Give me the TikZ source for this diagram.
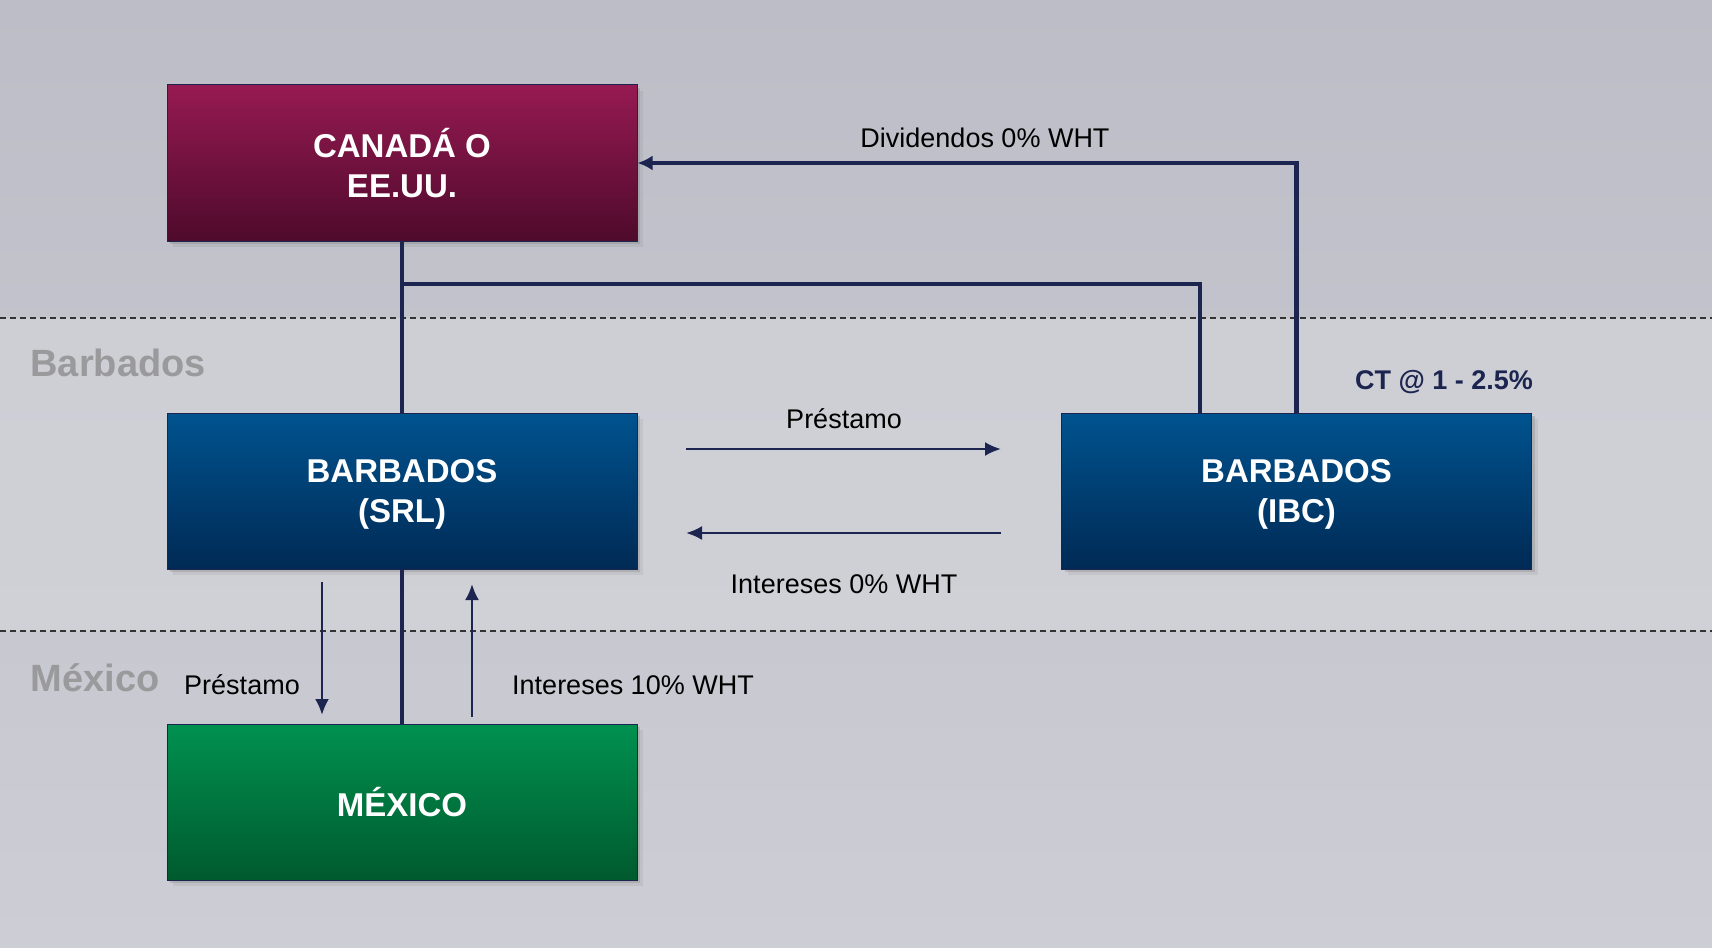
\documentclass[tikz,border=0pt]{standalone}
\usepackage{fontspec}
\setmainfont{Liberation Sans}
\usepackage{tikz}
\usetikzlibrary{arrows.meta,shadows}
\usepackage{xcolor}
\definecolor{navy}{HTML}{1C2450}
\definecolor{wineTop}{HTML}{961A52}
\definecolor{wineBot}{HTML}{4E0A2B}
\definecolor{blueTop}{HTML}{00538F}
\definecolor{blueBot}{HTML}{002A55}
\definecolor{greenTop}{HTML}{00914F}
\definecolor{greenBot}{HTML}{005A2E}
\definecolor{bgTop}{HTML}{BCBDC6}
\definecolor{bgMid}{HTML}{D4D5DA}
\definecolor{bgBot}{HTML}{CDCED5}
\definecolor{zonegray}{HTML}{9A9A9D}

\begin{document}
\begin{tikzpicture}[x=1pt,y=-1pt]

\tikzset{box/.style = {shape=rectangle,draw=navy,line width=1pt,minimum width=470pt,minimum height=156pt,
  align=center,text=white,font=\fontsize{33}{40}\selectfont\bfseries,
  drop shadow={shadow xshift=6pt,shadow yshift=-6pt,opacity=.15},
  drop shadow={shadow xshift=3pt,shadow yshift=-3pt,opacity=.3}}}
\tikzset{link/.style = {draw=navy,line width=4.5pt}}
\tikzset{flow/.style = {draw=navy,line width=2.5pt,-{Latex[length=16pt,width=14pt]}}}
\tikzset{lbl/.style = {text=black,font=\fontsize{27}{32}\selectfont}}
\tikzset{zone/.style = {anchor=base west,text=zonegray,font=\fontsize{38}{44}\selectfont\bfseries}}
\tikzset{divider/.style = {draw=black!80,line width=1.5pt,dash pattern=on 6pt off 4pt}}

%background
\useasboundingbox (0,0) rectangle (1712,947);
\fill[top color=bgTop,bottom color=bgBot] (0,0) rectangle (1712,947);
\fill[bgMid,opacity=.7] (0,318) rectangle (1712,631);
\draw[divider] (0,318) -- (1712,318);
\draw[divider] (0,631) -- (1712,631);
\node[zone] (zbarb) at (27,376) {Barbados};
\node[zone] (zmex) at (27,691) {México};

%entities
\node[box,top color=wineTop,bottom color=wineBot] (canada) at (402,163) {CANADÁ O\\EE.UU.};
\node[box,top color=blueTop,bottom color=blueBot] (srl) at (402,491) {\vphantom{Á}BARBADOS\\(SRL)};
\node[box,top color=blueTop,bottom color=blueBot] (ibc) at (1296.5,491) {\vphantom{Á}BARBADOS\\(IBC)};
\node[box,top color=greenTop,bottom color=greenBot] (mexico) at (402,802) {MÉXICO};

%ownership
\coordinate (split) at (402,284);
\coordinate (ibcleft) at (1200,413);
\draw[link] (canada.south) -- (srl.north);
\draw[link] (srl.south) -- (mexico.north);
\draw[link] (split) -| (ibcleft);
\draw[link,-{Latex[length=15pt,width=15pt]}] (ibc.north) |- (canada.east);

%flows
\coordinate (loanA) at (686,449);
\coordinate (loanB) at (1001,449);
\coordinate (intA) at (1001,533);
\coordinate (intB) at (686,533);
\coordinate (mloanA) at (322,582);
\coordinate (mloanB) at (322,715);
\coordinate (mintA) at (472,717);
\coordinate (mintB) at (472,584);
\draw[flow] (loanA) -- (loanB);
\draw[flow] (intA) -- (intB);
\draw[flow] (mloanA) -- (mloanB);
\draw[flow] (mintA) -- (mintB);

%labels
\node[lbl] (ldiv) at (985,138) {Dividendos 0\% WHT};
\node[lbl,font=\fontsize{27}{32}\selectfont\bfseries,text=navy] (lct) at (1444,382) {CT @ 1 - 2.5\%};
\node[lbl] (lloan) at (844,419) {Préstamo};
\node[lbl] (lint) at (844,584) {Intereses 0\% WHT};
\node[lbl] (lmloan) at (242,685) {Préstamo};
\node[lbl] (lmint) at (633,685) {Intereses 10\% WHT};
\end{tikzpicture}
\end{document}
